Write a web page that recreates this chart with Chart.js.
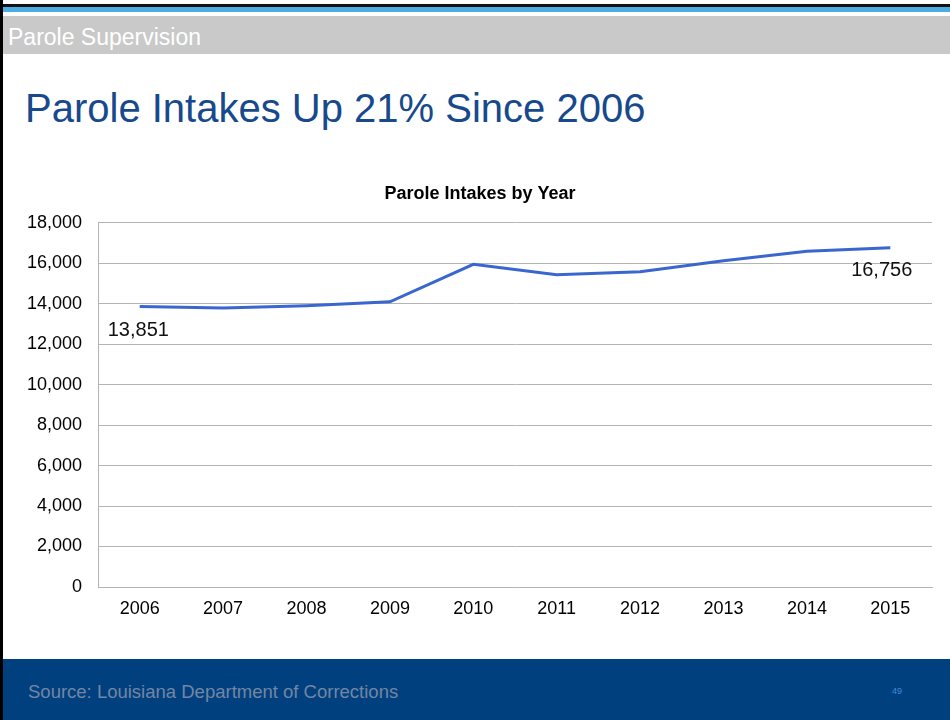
<!DOCTYPE html>
<html>
<head>
<meta charset="utf-8">
<script src="https://cdn.jsdelivr.net/npm/chart.js@4"></script>
<style>
    html, body {
        margin: 0;
        padding: 0;
        width: 950px;
        height: 720px;
        overflow: hidden;
        background: #ffffff;
        font-family: "Liberation Sans", Arial, sans-serif;
    }
    .slide {
        position: relative;
        width: 950px;
        height: 720px;
        border-left: 3px solid #000;
        box-sizing: border-box;
    }
    .top-rule {
        position: absolute;
        left: 0; top: 4px;
        width: 950px; height: 3px;
        background: #111;
    }
    .top-band {
        position: absolute;
        left: 0; top: 7px;
        width: 950px; height: 5px;
        background: #4aaee2;
    }
    .section-bar {
        position: absolute;
        left: 0; top: 16px;
        width: 950px; height: 38px;
        background: #c9c9c9;
        color: #ffffff;
        font-size: 23px;
        line-height: 42px;
        padding-left: 5px;
        box-sizing: border-box;
    }
    .headline {
        position: absolute;
        left: 22px; top: 86px;
        margin: 0;
        font-weight: normal;
        font-size: 40px;
        color: #17498c;
        white-space: nowrap;
    }
    .chart-box {
        position: absolute;
        left: 25px; top: 175px;
        width: 908px; height: 460px;
    }
    .footer {
        position: absolute;
        left: 0; top: 659px;
        width: 950px; height: 61px;
        background: #01407f;
    }
    .footer .source {
        position: absolute;
        left: 25px; top: 22px;
        font-size: 18.5px;
        color: #7386a3;
    }
    .footer .page {
        position: absolute;
        left: 889px; top: 27px;
        font-size: 9px;
        color: #3f8ed6;
    }
</style>
</head>
<body>
<div class="slide">
    <div class="top-rule"></div>
    <div class="top-band"></div>
    <div class="section-bar">Parole Supervision</div>
    <h1 class="headline">Parole Intakes Up 21% Since 2006</h1>
    <div class="chart-box"><canvas id="intakeChart"></canvas></div>
    <div class="footer">
        <span class="source">Source: Louisiana Department of Corrections</span>
        <span class="page">49</span>
    </div>
</div>

<script>
// Yearly parole intakes
const years = ['2006', '2007', '2008', '2009', '2010', '2011', '2012', '2013', '2014', '2015'];
const intakes = [13851, 13780, 13890, 14090, 15940, 15430, 15570, 16120, 16580, 16756];
const yTicks = [0, 2000, 4000, 6000, 8000, 10000, 12000, 14000, 16000, 18000];

const chartTitle = 'Parole Intakes by Year';
const lineColor = '#3a67cf';
const gridColor = '#b4b4b4';

// Label only the first and last year, under the line
const endLabels = {
    id: 'endLabels',
    afterDatasetsDraw(chart) {
        const ctx = chart.ctx;
        const points = chart.getDatasetMeta(0).data;
        const values = chart.data.datasets[0].data;
        const last = points.length - 1;

        ctx.save();
        ctx.font = '20px "Liberation Sans", Arial, sans-serif';
        ctx.fillStyle = '#111';
        ctx.textBaseline = 'middle';

        ctx.textAlign = 'left';
        ctx.fillText(values[0].toLocaleString('en-US'), points[0].x - 32, points[0].y + 24);

        ctx.textAlign = 'right';
        ctx.fillText(values[last].toLocaleString('en-US'), points[last].x + 22, points[last].y + 23);
        ctx.restore();
    }
};

document.addEventListener('DOMContentLoaded', function () {
    const ctx = document.getElementById('intakeChart').getContext('2d');

    new Chart(ctx, {
        type: 'line',
        data: {
            labels: years,
            datasets: [{
                label: 'Parole Intakes',
                data: intakes,
                borderColor: lineColor,
                borderWidth: 3,
                tension: 0,
                fill: false,
                pointRadius: 0,
                pointHoverRadius: 0
            }]
        },
        options: {
            responsive: true,
            maintainAspectRatio: false,
            animation: false,
            layout: {
                padding: { top: 0, right: 4, bottom: 0, left: 0 }
            },
            plugins: {
                legend: { display: false },
                tooltip: { enabled: false },
                title: {
                    display: true,
                    text: chartTitle,
                    color: '#000',
                    font: { family: '"Liberation Sans", Arial, sans-serif', size: 18, weight: 'bold' },
                    padding: { top: 8, bottom: 18 }
                }
            },
            scales: {
                x: {
                    offset: true,
                    grid: { display: false, drawTicks: false },
                    border: { display: true, color: gridColor, width: 1 },
                    ticks: {
                        color: '#000',
                        padding: 11,
                        font: { family: '"Liberation Sans", Arial, sans-serif', size: 18 }
                    },
                    afterFit: function (scale) {
                        scale.height = 48;
                    }
                },
                y: {
                    min: 0,
                    max: 18000,
                    afterBuildTicks: function (scale) {
                        scale.ticks = yTicks.map(v => ({ value: v }));
                    },
                    grid: { color: gridColor, lineWidth: 1, drawTicks: false },
                    border: { display: true, color: gridColor, width: 1 },
                    ticks: {
                        color: '#000',
                        padding: 16,
                        font: { family: '"Liberation Sans", Arial, sans-serif', size: 18 },
                        callback: function (value) {
                            return value.toLocaleString('en-US');
                        }
                    },
                    afterFit: function (scale) {
                        scale.width = 70;
                    }
                }
            }
        },
        plugins: [endLabels]
    });
});
</script>
</body>
</html>
